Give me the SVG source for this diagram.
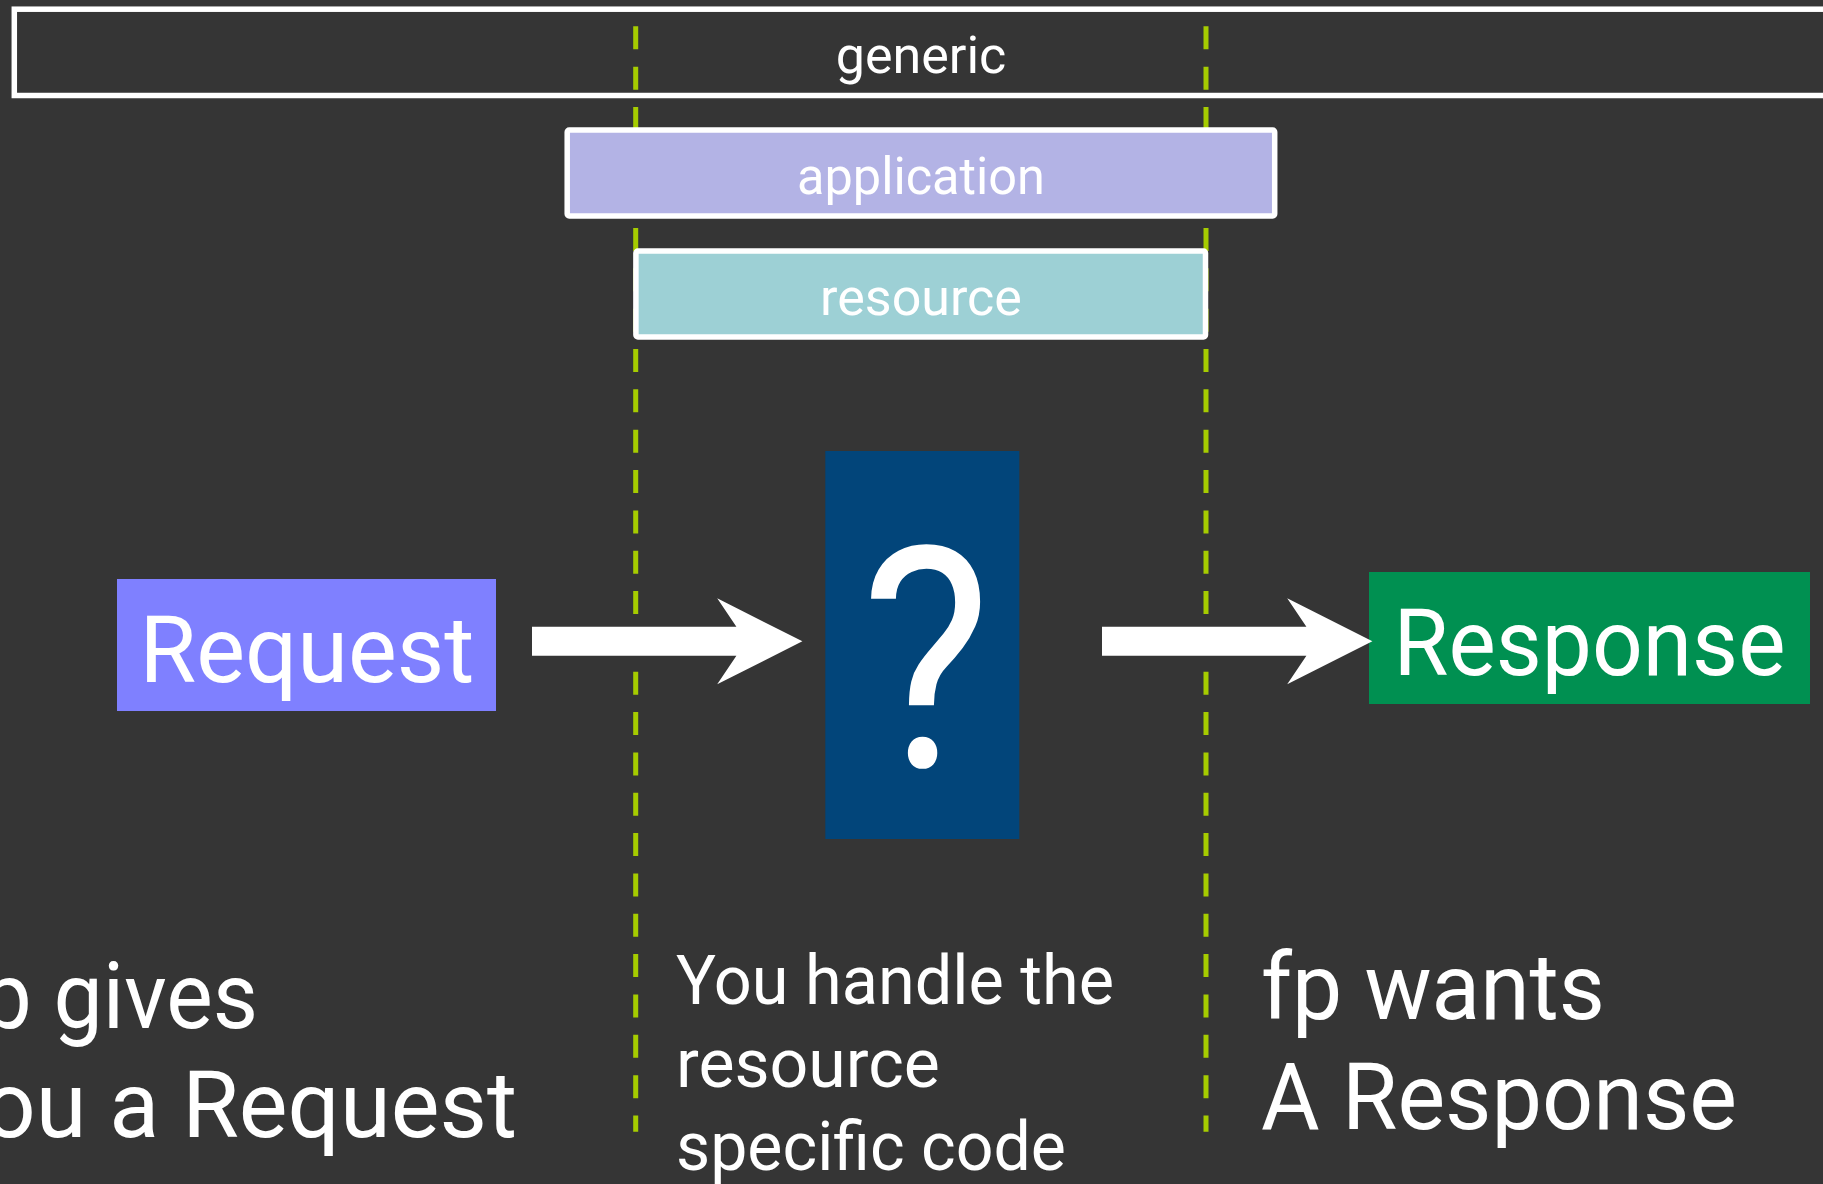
<svg xmlns="http://www.w3.org/2000/svg" width="1823" height="1184" viewBox="0 0 1823 1184">
  <style>
    .lbl { font-family: Roboto, "Liberation Sans", "DejaVu Sans", sans-serif; font-weight: 400; fill: #ffffff; }
    .band { stroke: #ffffff; stroke-width: 5.5; }
    .small { font-size: 52px; text-anchor: middle; }
    .big { font-size: 92px; }
    .mid { font-size: 68px; }
    .guide { fill: none; stroke: #a6cc00; stroke-width: 5; stroke-dasharray: 23 17.34; }
    .arrow { fill: #ffffff; }
  </style>
  <defs>
    <polygon id="arrowShape" points="0,-14.6 204.4,-14.6 185.2,-43 270.4,0 185.2,43 204.4,14.4 0,14.4"/>
  </defs>
  <rect x="0" y="0" width="1823" height="1184" fill="#353535"/>

  <g id="guides">
    <line class="guide" x1="635.7" y1="26.3" x2="635.7" y2="1131.7"/>
    <line class="guide" x1="1206" y1="26.3" x2="1206" y2="1131.7"/>
  </g>

  <g id="generic">
    <rect class="band" x="14.3" y="9.2" width="1830" height="86.3" fill="none"/>
    <text class="lbl small" x="921" y="73.3">generic</text>
  </g>

  <g id="application">
    <rect class="band" x="567.2" y="130" width="707.5" height="86" rx="2" fill="#b3b3e5"/>
    <text class="lbl small" x="921" y="194.3" textLength="248" lengthAdjust="spacingAndGlyphs">application</text>
  </g>

  <g id="resource">
    <rect class="band" x="635.9" y="251" width="569.6" height="86" rx="2" fill="#9dd0d5"/>
    <text class="lbl small" x="921" y="315">resource</text>
  </g>

  <g id="request">
    <rect x="117" y="579" width="379" height="132" fill="#7f80ff"/>
    <text class="lbl big" x="307" y="681.7" text-anchor="middle">Request</text>
  </g>

  <g id="handler">
    <rect x="825.3" y="451" width="194" height="388" fill="#02457a"/>
    <text class="lbl" x="926" y="767" font-size="309" text-anchor="middle" textLength="130" lengthAdjust="spacingAndGlyphs">?</text>
  </g>

  <g id="response">
    <rect x="1369" y="572" width="441" height="132" fill="#009051"/>
    <text class="lbl big" x="1589.5" y="675" text-anchor="middle" textLength="392" lengthAdjust="spacingAndGlyphs">Response</text>
  </g>

  <g id="connectors">
    <use href="#arrowShape" class="arrow" transform="translate(532,641.3)"/>
    <use href="#arrowShape" class="arrow" transform="translate(1102,641.3)"/>
  </g>

  <g id="caption-left">
    <text class="lbl big" x="258" y="1027.7" text-anchor="end" textLength="306" lengthAdjust="spacingAndGlyphs">fp gives</text>
    <text class="lbl big" x="517" y="1136.7" text-anchor="end">you a Request</text>
  </g>

  <g id="caption-middle">
    <text class="lbl mid" x="676" y="1004" textLength="438" lengthAdjust="spacingAndGlyphs">You handle the</text>
    <text class="lbl mid" x="676" y="1086.7">resource</text>
    <text class="lbl mid" x="676" y="1169.5" textLength="390" lengthAdjust="spacingAndGlyphs">specific code</text>
  </g>

  <g id="caption-right">
    <text class="lbl big" x="1261" y="1019.3" textLength="344" lengthAdjust="spacingAndGlyphs">fp wants</text>
    <text class="lbl big" x="1261" y="1129.3" textLength="476" lengthAdjust="spacingAndGlyphs">A Response</text>
  </g>
</svg>
